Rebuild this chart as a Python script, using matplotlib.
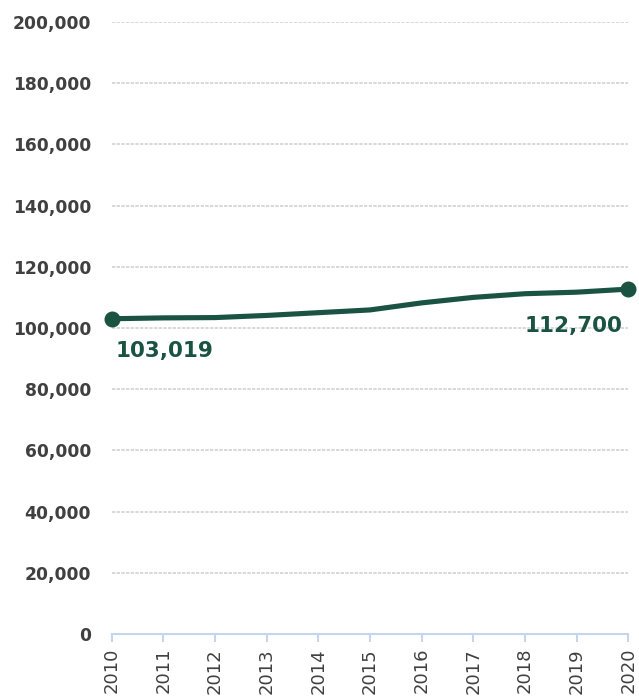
import matplotlib
matplotlib.use("Agg")
import matplotlib.pyplot as plt
from matplotlib.ticker import FuncFormatter

years = [2010, 2011, 2012, 2013, 2014, 2015, 2016, 2017, 2018, 2019, 2020]
values = [103019, 103300, 103400, 104100, 105000, 105900, 108200, 110000, 111200, 111700, 112700]
yticks = [0, 20000, 40000, 60000, 80000, 100000, 120000, 140000, 160000, 180000, 200000]

green = "#1b5343"
plt.rcParams["font.family"] = ["DejaVu Sans"]

fig = plt.figure(figsize=(6.39, 7.0), dpi=100)
ax = fig.add_axes([0.175, 0.0943, 0.808, 0.8743])

ax.plot(years, values, color=green, linewidth=3.7, solid_capstyle="round", zorder=3, clip_on=False)
ax.plot([years[0], years[-1]], [values[0], values[-1]], "o", color=green, markersize=10.5, zorder=4, clip_on=False)

ax.set_xlim(2010, 2020)
ax.set_ylim(0, 200000)
ax.set_yticks(yticks)
ax.yaxis.set_major_formatter(FuncFormatter(lambda v, p: f"{int(v):,}"))
ax.set_xticks(years)
ax.set_xticklabels([str(y) for y in years], rotation=90, fontsize=13, color="#404040")
for lbl in ax.get_yticklabels():
    lbl.set_fontweight("bold")
    lbl.set_fontsize(12.3)
    lbl.set_color("#404040")

ax.grid(axis="y", color="#d2d2d2", linestyle=(0, (2, 0.8)), linewidth=1.2, zorder=0)
for s in ["top", "right", "left"]:
    ax.spines[s].set_visible(False)
ax.spines["bottom"].set_color("#c5d5ee")
ax.spines["bottom"].set_linewidth(1.5)
ax.tick_params(axis="y", length=0, pad=15)
ax.tick_params(axis="x", length=6, width=1.5, color="#c5d5ee", pad=4)

ax.annotate(f"{values[0]:,}", (years[0], values[0]), xytext=(3, -16), textcoords="offset points",
            ha="left", va="top", fontsize=15.5, fontweight="bold", color=green)
ax.annotate(f"{values[-1]:,}", (years[-1], values[-1]), xytext=(-4, -19), textcoords="offset points",
            ha="right", va="top", fontsize=15.5, fontweight="bold", color=green)

fig.savefig("out.png", dpi=100)
